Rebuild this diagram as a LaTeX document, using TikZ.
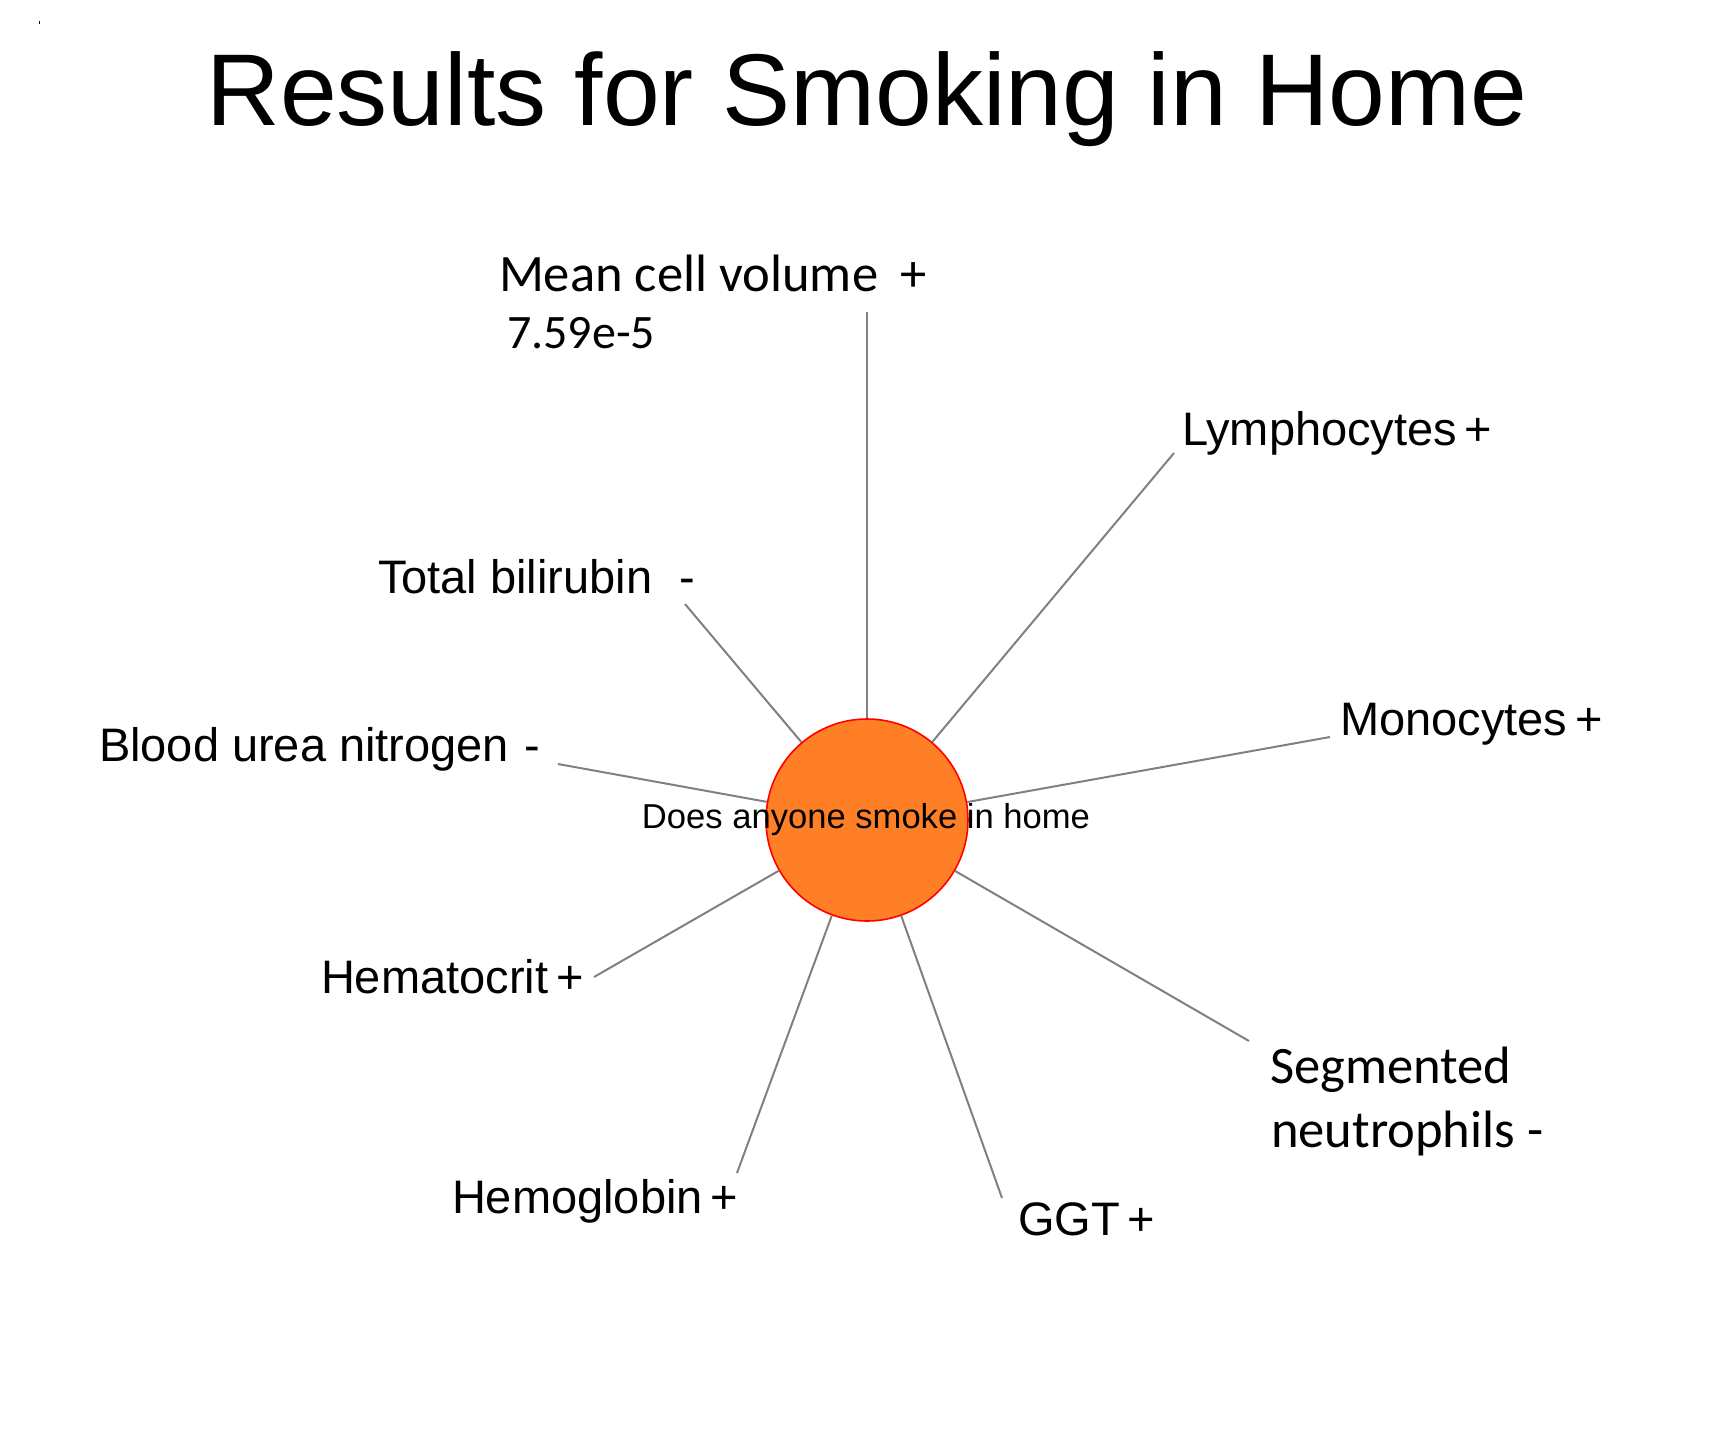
\documentclass[tikz,border=0pt]{standalone}
\usepackage{fontspec}
\setmainfont{Liberation Sans}
\newfontfamily\calibri{Carlito}
\definecolor{orangefill}{RGB}{255,127,39}
\definecolor{rimred}{RGB}{255,0,0}
\definecolor{spokegray}{RGB}{128,128,128}
\begin{document}
\begin{tikzpicture}[x=0.5pt,y=-0.5pt,
  lbl/.style={anchor=base west,inner sep=0pt,outer sep=0pt,font=\fontsize{23.5}{28}\selectfont},
  clbl/.style={anchor=base west,inner sep=0pt,outer sep=0pt,font=\calibri\fontsize{26.3}{31}\selectfont},
  spoke/.style={draw=spokegray,line width=1pt},
  hub/.style={circle,draw=rimred,line width=0.8pt,fill=orangefill,minimum size=101pt,inner sep=0pt}]
\useasboundingbox (0,0) rectangle (1731,1452);
\fill[black] (38.5,21) rectangle (39.7,24);
\node[anchor=base,inner sep=0pt,font=\fontsize{51}{61}\selectfont] (title) at (867,125) {Results for Smoking in Home};
\node[hub] (c) at (867,820) {};
% outer ends
\coordinate (pMCV) at (867,312);
\coordinate (pLym) at (1174,453);
\coordinate (pMon) at (1330,737);
\coordinate (pSeg) at (1249,1041);
\coordinate (pGGT) at (1002,1198);
\coordinate (pHgb) at (737,1173);
\coordinate (pHct) at (594,977);
\coordinate (pBUN) at (558,764);
\coordinate (pTB) at (685,604);
\foreach \p in {pMCV,pLym,pMon,pSeg,pGGT,pHgb,pHct,pBUN,pTB}{\draw[spoke] (\p) -- (c);}
\node[anchor=base,inner sep=0pt,font=\fontsize{17.3}{20}\selectfont] (ctext) at (866,828) {Does anyone smoke in home};
% labels
\node[clbl] (mcv) at (499,291) {Mean cell volume\hspace{0.42em}+};
\node[clbl,font=\calibri\fontsize{24}{29}\selectfont] (mcvp) at (507,348) {7.59e-5};
\node[lbl] (lym) at (1182,445) {Lymphocytes\,+};
\node[lbl] (mon) at (1340,735) {Monocytes\,+};
\node[clbl] (seg1) at (1270,1083) {Segmented};
\node[clbl] (seg2) at (1271,1147) {neutrophils -};
\node[lbl] (ggt) at (1018,1235) {GGT\,+};
\node[lbl] (hgb) at (452,1213) {Hemoglobin\,+};
\node[lbl] (hct) at (321,993) {Hematocrit\,+};
\node[lbl] (bun) at (99,761) {Blood urea nitrogen\,\,-};
\node[lbl] (tb) at (378,593) {Total bilirubin\hspace{0.3em} -};
\end{tikzpicture}
\end{document}
